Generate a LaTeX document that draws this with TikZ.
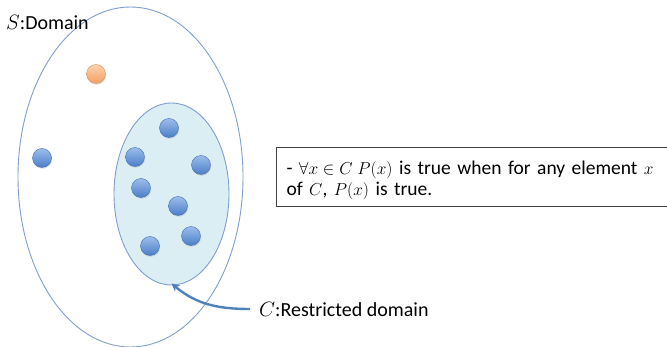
\documentclass[tikz,border=0pt]{standalone}
\usepackage{fontspec}
\setmainfont{Carlito}
\usetikzlibrary{shapes.geometric,arrows.meta,shadows}
\definecolor{ringblue}{HTML}{7F9FCF}
\definecolor{cfill}{HTML}{DAEEF3}
\definecolor{dotdark}{HTML}{4A7EC8}
\definecolor{dotlight}{HTML}{9DBDEB}
\definecolor{ordark}{HTML}{F5A060}
\definecolor{orlight}{HTML}{FCD2B0}
\definecolor{arrowblue}{HTML}{4F81BD}
\definecolor{boxgray}{HTML}{404040}
\newcommand{\smallmath}[1]{{\fontsize{18}{22}\selectfont$#1$}}
\tikzset{
  setring/.style={ellipse, draw=ringblue, line width=0.9pt},
  bluedot/.style={circle, minimum size=19pt, inner sep=0pt, draw=dotdark!90!black, line width=0.4pt,
     top color=dotlight, bottom color=dotdark,
     drop shadow={opacity=0.25, shadow xshift=0.6pt, shadow yshift=-1.2pt}},
  orangedot/.style={circle, minimum size=19pt, inner sep=0pt, draw=ordark!90!black, line width=0.4pt,
     top color=orlight, bottom color=ordark,
     drop shadow={opacity=0.25, shadow xshift=0.6pt, shadow yshift=-1.2pt}},
  lbl/.style={font=\fontsize{20}{22}\selectfont, inner sep=0pt}
}
\begin{document}
\begin{tikzpicture}[x=1pt,y=-1pt]
\clip (0,0) rectangle (667,347);
\fill[white] (0,0) rectangle (667,347);
% outer domain
\node[setring, minimum width=225pt, minimum height=340pt] (S) at (130.5,177) {};
\node[lbl, anchor=base west] (Slab) at (6,30) {$S$:Domain};
% restricted domain
\node[setring, fill=cfill, minimum width=115pt, minimum height=182pt] (C) at (171.5,194) {};
% dots
\node[orangedot] (o1) at (96,74) {};
\node[bluedot] (d1) at (42,158) {};
\node[bluedot] (d2) at (169,128) {};
\node[bluedot] (d3) at (135,157) {};
\node[bluedot] (d4) at (201,165) {};
\node[bluedot] (d5) at (141,188) {};
\node[bluedot] (d6) at (178,206) {};
\node[bluedot] (d7) at (191,236) {};
\node[bluedot] (d8) at (150,246) {};
% label and arrow
\node[lbl, anchor=west, inner xsep=9pt] (Clab) at (250,309) {$C$:Restricted domain};
\draw[arrowblue, line width=2.4pt, -{Stealth[length=8pt,width=8pt]}]
  (Clab.west) to[out=180, in=-40] ([yshift=2pt]C.south);
% text box
\node[draw=boxgray, line width=1pt, anchor=north west, minimum width=420pt, minimum height=59pt,
      text width=400pt, align=left, inner xsep=2pt, inner ysep=4pt,
      font=\fontsize{19.5}{21.5}\selectfont] (box) at (276,147)
  {\rule{0pt}{20pt}- \smallmath{\forall x\in C\;P(x)} is true when for any element \smallmath{x}\\
   of \smallmath{C}, \smallmath{P(x)} is true.};
\end{tikzpicture}
\end{document}
